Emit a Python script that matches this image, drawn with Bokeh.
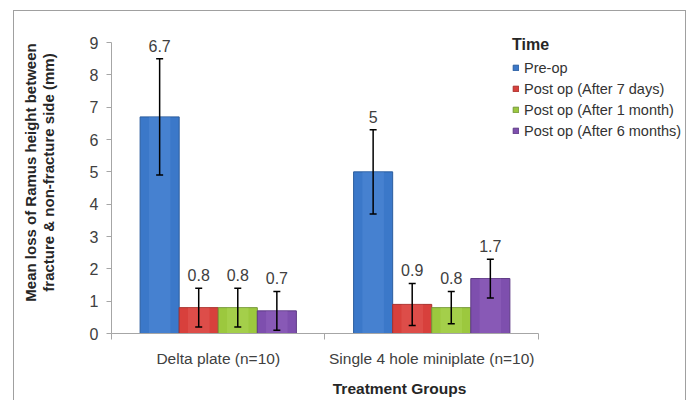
from bokeh.plotting import figure
from bokeh.models import (ColumnDataSource, Range1d, FixedTicker, Whisker, TeeHead,
                          Legend, LegendItem)
from bokeh.core.properties import value
from bokeh.embed import file_html
from bokeh.resources import INLINE

groups = ["Delta plate (n=10)", "Single 4 hole miniplate (n=10)"]
series = ["Pre-op", "Post op (After 7 days)", "Post op (After 1 month)", "Post op (After 6 months)"]
pre_op = [6.7, 5.0]
post_7d = [0.8, 0.9]
post_1m = [0.8, 0.8]
post_6m = [0.7, 1.7]
pre_op_sd = [1.8, 1.3]
post_7d_sd = [0.6, 0.65]
post_1m_sd = [0.6, 0.5]
post_6m_sd = [0.6, 0.6]
y_ticks = [0, 1, 2, 3, 4, 5, 6, 7, 8, 9]

values = [pre_op, post_7d, post_1m, post_6m]
sds = [pre_op_sd, post_7d_sd, post_1m_sd, post_6m_sd]
fills = ["#3b78c9", "#d8403c", "#9cc83e", "#7e4fae"]
edges = ["#2b5d9e", "#a8302c", "#76983a", "#5e3a85"]
lights = ["#5c93dc", "#e86662", "#b4dc60", "#9a6cc6"]

FONT = "Liberation Sans"
bar_w = 0.183

p = figure(width=673, height=390, output_backend="svg", toolbar_location=None,
           x_range=Range1d(0, 2.698), y_range=Range1d(0, 9.96),
           min_border_left=97, min_border_right=0, min_border_top=0, min_border_bottom=68)
p.outline_line_color = None
p.xgrid.grid_line_color = None
p.ygrid.grid_line_color = None
p.background_fill_color = "white"
p.border_fill_color = "white"
p.styles = {"margin-left": "13px", "margin-top": "10px",
            "border-left": "1px solid #a0a0a0", "border-top": "1px solid #a0a0a0",
            "border-right": "1px solid #a0a0a0"}

legend_items = []
for i, (name, vals, sd) in enumerate(zip(series, values, sds)):
    off = (i - 1.5) * bar_w
    xs = [g + 0.5 + off for g in range(len(groups))]
    src = ColumnDataSource(dict(
        x=xs, top=vals,
        upper=[v + s for v, s in zip(vals, sd)],
        lower=[v - s for v, s in zip(vals, sd)],
        lab=[("%g" % v) for v in vals]))
    r = p.vbar(x="x", top="top", width=bar_w, source=src, fill_color=fills[i],
               line_color=edges[i], line_width=1)
    p.vbar(x="x", top="top", width=bar_w * 0.55, source=src, fill_color=lights[i],
           fill_alpha=0.35, line_color=None)
    w = Whisker(base="x", upper="upper", lower="lower", source=src,
                line_color="black", line_width=1.5, level="overlay",
                upper_head=TeeHead(size=7, line_color="black", line_width=1.5),
                lower_head=TeeHead(size=7, line_color="black", line_width=1.5))
    p.add_layout(w)
    p.text(x="x", y="upper", text="lab", source=src, text_align="center",
           text_baseline="bottom", y_offset=-7, text_font_size="16px",
           text_color="#404040", text_font=value(FONT))
    legend_items.append(LegendItem(label=name, renderers=[r]))

# y axis
p.yaxis.ticker = FixedTicker(ticks=y_ticks)
p.yaxis.bounds = (y_ticks[0], y_ticks[-1])
p.yaxis.major_tick_out = 5
p.yaxis.major_tick_in = 0
p.yaxis.minor_tick_out = 0
p.yaxis.minor_tick_in = 0
p.yaxis.axis_line_color = "#a6a6a6"
p.yaxis.major_tick_line_color = "#a6a6a6"
p.yaxis.major_label_standoff = 8
p.yaxis.major_label_text_font_size = "16px"
p.yaxis.major_label_text_color = "#404040"
p.yaxis.major_label_text_font = FONT
p.yaxis.axis_label = "Mean loss of Ramus height between\nfracture & non-fracture side (mm)"
p.yaxis.axis_label_text_font = FONT
p.yaxis.axis_label_text_font_size = "15px"
p.yaxis.axis_label_text_font_style = "bold"
p.yaxis.axis_label_text_color = "#262626"
p.yaxis.axis_label_text_line_height = 1.05
p.yaxis.axis_label_standoff = 30

# x axis
p.xaxis.ticker = FixedTicker(ticks=[0.5, 1.5], minor_ticks=[0, 1, 2])
p.xaxis.bounds = (0, len(groups))
p.xaxis.major_label_overrides = {0.5: groups[0], 1.5: groups[1]}
p.xaxis.major_tick_out = 0
p.xaxis.major_tick_in = 0
p.xaxis.minor_tick_out = 6
p.xaxis.minor_tick_in = 0
p.xaxis.axis_line_color = "#a6a6a6"
p.xaxis.minor_tick_line_color = "#a6a6a6"
p.xaxis.major_label_standoff = 10
p.xaxis.major_label_text_font_size = "15.5px"
p.xaxis.major_label_text_color = "#404040"
p.xaxis.major_label_text_font = FONT
p.xaxis.axis_label = "Treatment Groups"
p.xaxis.axis_label_text_font = FONT
p.xaxis.axis_label_text_font_size = "15.5px"
p.xaxis.axis_label_text_font_style = "bold"
p.xaxis.axis_label_text_color = "#262626"
p.xaxis.axis_label_standoff = 10

legend = Legend(items=legend_items, location=(401, 192), title="Time",
                title_text_font=FONT, title_text_font_size="16px", title_text_font_style="bold",
                title_text_color="#262626", title_standoff=3,
                label_text_font=FONT, label_text_font_size="14.5px", label_text_color="#333333",
                glyph_width=7, glyph_height=7, label_standoff=5, label_height=21,
                spacing=0, padding=0, margin=0, border_line_color=None,
                background_fill_alpha=0)
p.add_layout(legend)

open("out.html", "w").write(file_html(p, INLINE))
